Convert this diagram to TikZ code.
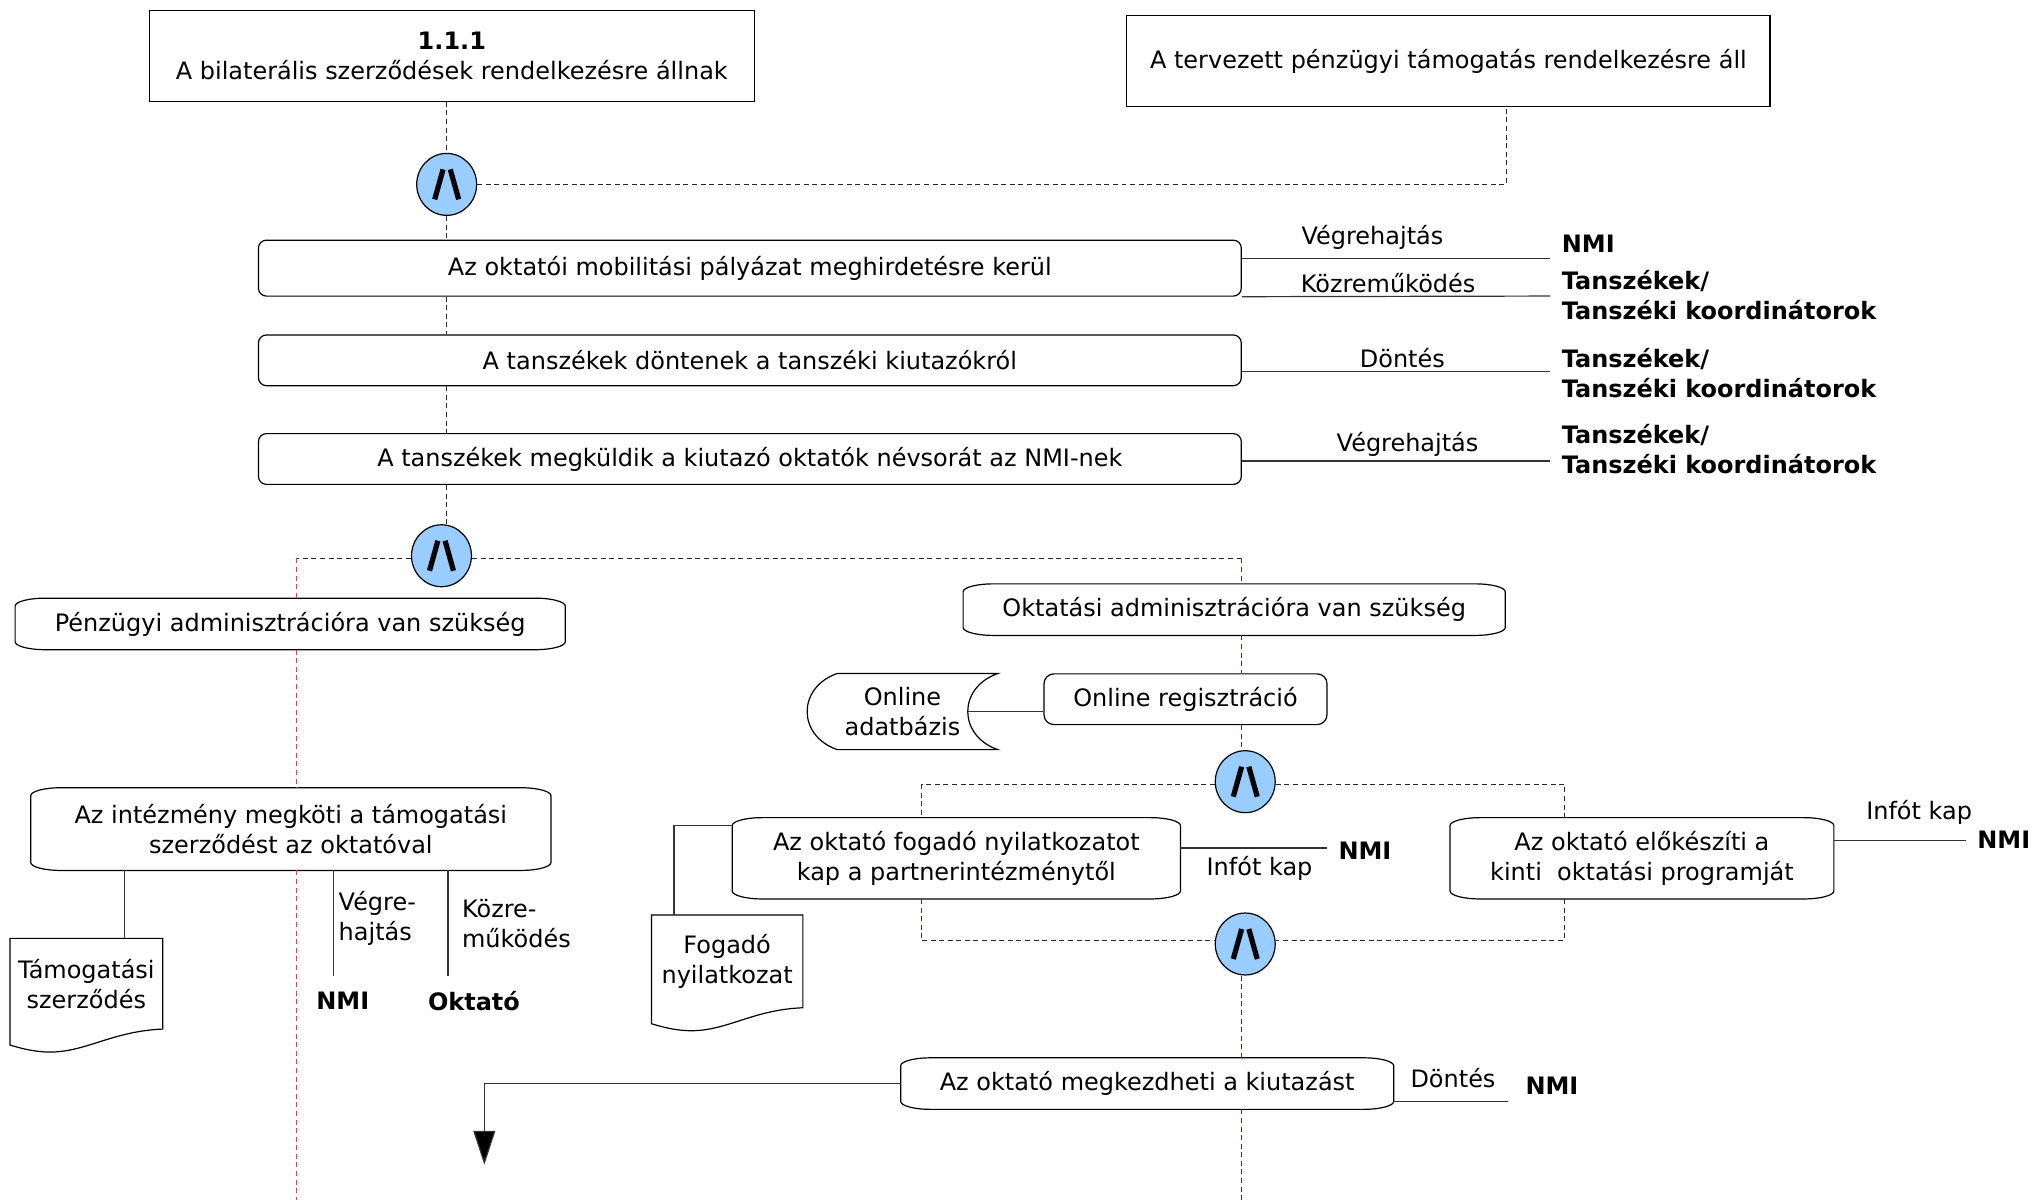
\documentclass[tikz,border=0pt]{standalone}
\usepackage{fontspec}
\setmainfont{DejaVu Sans}
\usetikzlibrary{calc,arrows.meta,shapes.geometric}
\definecolor{andblue}{HTML}{99CCFF}
\definecolor{redline}{HTML}{C05050}
\definecolor{blueline}{HTML}{2828A8}
\definecolor{connline}{HTML}{333333}
\tikzset{
  shapeln/.style={draw=black, line width=0.6pt},
  rectbox/.style={shapeln, inner sep=0pt, align=center},
  rndbox/.style={shapeln, rounded corners=4pt, inner sep=0pt, align=center},
  evnode/.style={inner sep=0pt, align=center},
  andnode/.style={ellipse, draw=black, line width=0.6pt, fill=andblue, minimum width=30pt, minimum height=31pt, inner sep=0pt},
  lbl/.style={inner sep=1pt, align=left},
  actor/.style={inner sep=1pt, align=left, font=\fontsize{12}{15}\selectfont\bfseries},
  solidln/.style={draw=connline, line width=0.6pt},
  dashln/.style={draw=black!85, line width=0.5pt, dash pattern=on 2.5pt off 1.8pt},
  redln/.style={dashln, draw=redline},
  blueln/.style={dashln, draw=blueline},
}
\newcommand\evbox[1]{%
  \draw[shapeln] ($(#1.north west)+(0pt,-4pt)$) arc[start angle=180,end angle=90,x radius=15pt,y radius=4pt]
    -- ($(#1.north east)+(-15pt,0pt)$) arc[start angle=90,end angle=0,x radius=15pt,y radius=4pt]
    -- ($(#1.south east)+(0pt,4pt)$) arc[start angle=0,end angle=-90,x radius=15pt,y radius=4pt]
    -- ($(#1.south west)+(15pt,0pt)$) arc[start angle=270,end angle=180,x radius=15pt,y radius=4pt] -- cycle;}
\newcommand\docshape[1]{%
  \draw[shapeln] (#1.north west) -- (#1.north east) -- (#1.south east)
    .. controls ($(#1.south east)+(-25pt,-1pt)$) and ($(#1.south west)+(38pt,-11.5pt)$) .. ($(#1.south west)+(20pt,-11.5pt)$)
    .. controls ($(#1.south west)+(12pt,-11.5pt)$) and ($(#1.south west)+(5pt,-9.5pt)$) .. ($(#1.south west)+(0pt,-8pt)$) -- cycle;}
\newcommand\andsym[1]{%
  \draw[line width=2.6pt] ($(#1)+(-6pt,-7.5pt)$) -- ($(#1)+(-1.8pt,7.5pt)$);
  \draw[line width=2.6pt] ($(#1)+(1.8pt,7.5pt)$) -- ($(#1)+(6pt,-7.5pt)$);}
\begin{document}
\begin{tikzpicture}[x=0.65pt,y=0.65pt,font=\fontsize{12}{15}\selectfont]
\useasboundingbox (0,0) rectangle (1568,-924);

% top boxes
\node[rectbox, minimum width=303pt, minimum height=45.5pt] (top1) at (348,-43)
  {\textbf{1.1.1}\\A bilaterális szerződések rendelkezésre állnak};
\node[rectbox, minimum width=322pt, minimum height=45.5pt] (top2) at (1115.5,-47)
  {A tervezett pénzügyi támogatás rendelkezésre áll};
\node[andnode] (and1) at (344,-142) {};
\andsym{and1}

% process boxes
\node[rndbox, minimum width=492pt, minimum height=28pt] (sA) at (577.5,-206.5)
  {Az oktatói mobilitási pályázat meghirdetésre kerül};
\node[rndbox, minimum width=492pt, minimum height=25.4pt] (sB) at (577.5,-277.5)
  {A tanszékek döntenek a tanszéki kiutazókról};
\node[rndbox, minimum width=492pt, minimum height=25.4pt] (sC) at (577.5,-353.5)
  {A tanszékek megküldik a kiutazó oktatók névsorát az NMI-nek};

\node[andnode] (and2) at (340,-428) {};
\andsym{and2}

\node[evnode, minimum width=275pt, minimum height=25.4pt] (pen) at (223.5,-480.5)
  {Pénzügyi adminisztrációra van szükség};
\evbox{pen}
\node[evnode, minimum width=271pt, minimum height=25.4pt] (okt) at (950.5,-469.5)
  {Oktatási adminisztrációra van szükség};
\evbox{okt}

\node[rndbox, rounded corners=5pt, minimum width=141.7pt, minimum height=25.4pt] (onreg) at (913,-538.5)
  {Online regisztráció};
\node[evnode, minimum width=95pt, minimum height=37.7pt] (ondb) at (695,-548)
  {Online\\adatbázis};
\draw[shapeln] ($(ondb.north west)+(15pt,0pt)$) -- (ondb.north east)
  .. controls ($(ondb.east)+(-20pt,12pt)$) and ($(ondb.east)+(-20pt,-12pt)$) .. (ondb.south east)
  -- ($(ondb.south west)+(15pt,0pt)$)
  .. controls ($(ondb.west)+(-5pt,-12pt)$) and ($(ondb.west)+(-5pt,12pt)$) .. cycle;

\node[andnode] (and3) at (959,-602) {};
\andsym{and3}

\node[evnode, minimum width=224pt, minimum height=40.3pt] (sD) at (736.5,-661)
  {Az oktató fogadó nyilatkozatot\\kap a partnerintézménytől};
\evbox{sD}
\node[evnode, minimum width=191.75pt, minimum height=40.3pt] (sE) at (1264.5,-661)
  {Az oktató előkészíti a\\kinti\ \ oktatási programját};
\evbox{sE}

\node[andnode] (and4) at (959,-727) {};
\andsym{and4}

\node[evnode, minimum width=260pt, minimum height=41pt] (inst) at (224,-638.5)
  {Az intézmény megköti a támogatási\\szerződést az oktatóval};
\evbox{inst}

\node[evnode, minimum width=76pt, minimum height=45pt] (tam) at (66.5,-757.6)
  {Támogatási\\szerződés};
\docshape{tam}
\node[evnode, minimum width=75.4pt, minimum height=46pt] (fog) at (560,-740.4)
  {Fogadó\\nyilatkozat};
\docshape{fog}

\node[evnode, minimum width=246.4pt, minimum height=25.4pt] (sF) at (883.5,-834.5)
  {Az oktató megkezdheti a kiutazást};
\evbox{sF}

% dashed control flow
\draw[dashln] (and1 |- top1.south) -- (and1.north);
\coordinate (c1) at (1160,-142);
\draw[dashln] (and1.east) -- (c1) -- (c1 |- top2.south);
\draw[dashln] (and1.south) -- (and1 |- sA.north);
\draw[dashln] (and1 |- sA.south) -- (and1 |- sB.north);
\draw[dashln] (and1 |- sB.south) -- (and1 |- sC.north);
\draw[dashln] (and1 |- sC.south) -- (and1 |- and2.north);
\coordinate (c2) at (228,-430);
\coordinate (c3) at (956,-430);
\draw[dashln] (and2.west |- c2) -- (c2);
\draw[redln] (c2) -- (c2 |- pen.north);
\draw[dashln] (and2.east |- c3) -- (c3);
\draw[blueln] (c3) -- (c3 |- okt.north);
\coordinate (redend) at (228,-924);
\draw[redln] (c2 |- pen.south) -- (c2 |- inst.north);
\draw[redln] (c2 |- inst.south) -- (redend);
\coordinate (blueend) at (956,-924);
\draw[blueln] (c3 |- okt.south) -- (c3 |- onreg.north);
\draw[blueln] (c3 |- onreg.south) -- (c3 |- and3.north);
\coordinate (c4) at (710,-604);
\coordinate (c5) at (1205,-604);
\coordinate (c6) at (710,-724);
\coordinate (c7) at (1205,-724);
\draw[dashln] (and3.west |- c4) -- (c4);
\draw[blueln] (c4) -- (c4 |- sD.north);
\draw[dashln] (and3.east |- c5) -- (c5) -- (c5 |- sE.north);
\draw[blueln] (c6 |- sD.south) -- (c6);
\draw[dashln] (c6) -- (and4.west |- c6);
\draw[dashln] (c7 |- sE.south) -- (c7) -- (and4.east |- c7);
\draw[blueln] (c3 |- and4.south) -- (c3 |- sF.north);
\draw[blueln] (c3 |- sF.south) -- (blueend);

% right-hand role lines
\coordinate (eA1) at (1194,-199);
\coordinate (eA2) at (1194,-228);
\coordinate (eB) at (1194,-286);
\coordinate (eC) at (1194,-355);
\draw[solidln] (sA.east |- eA1) -- (eA1);
\draw[solidln] (sA.south east) -- (eA2);
\draw[solidln] (sB.east |- eB) -- (eB);
\draw[solidln] (sC.east |- eC) -- (eC);
\node[lbl] (lA1) at (1057,-183) {Végrehajtás};
\node[lbl] (lA2) at (1069,-218) {Közreműködés};
\node[lbl] (lB) at (1080,-276) {Döntés};
\node[lbl] (lC) at (1084,-342) {Végrehajtás};
\node[actor, anchor=west] (aA1) at (1201,-188) {NMI};
\node[actor, anchor=west] (aA2) at (1201,-227.5) {Tanszékek/\\Tanszéki koordinátorok};
\node[actor, anchor=west] (aB) at (1201,-287.5) {Tanszékek/\\Tanszéki koordinátorok};
\node[actor, anchor=west] (aC) at (1201,-345.5) {Tanszékek/\\Tanszéki koordinátorok};

% online db
\draw[solidln] ($(ondb.east)+(-15pt,0pt)$) -- (onreg.west |- ondb.east);

% D and E roles
\coordinate (eD) at (1022,-653);
\draw[solidln] (sD.east |- eD) -- (eD);
\node[lbl] (lD) at (970,-669) {Infót kap};
\node[actor, anchor=west] (aD) at (1029,-655) {NMI};
\coordinate (eE) at (1514,-647);
\draw[solidln] (sE.east |- eE) -- (eE);
\node[lbl] (lE) at (1478,-626) {Infót kap};
\node[actor, anchor=west] (aE) at (1521,-647) {NMI};
\coordinate (c8) at (519,-636);
\draw[solidln] (sD.west |- c8) -- (c8) -- (c8 |- fog.north);

% institution roles
\coordinate (c9) at (96,-670);
\draw[solidln] (c9 |- inst.south) -- (c9 |- tam.north);
\coordinate (eI1) at (257,-752);
\coordinate (eI2) at (345,-752);
\draw[solidln] (eI1 |- inst.south) -- (eI1);
\draw[solidln] (eI2 |- inst.south) -- (eI2);
\node[lbl, anchor=west] (lI1) at (259,-707) {Végre-\\hajtás};
\node[lbl, anchor=west] (lI2) at (354,-711) {Közre-\\működés};
\node[actor] (aI1) at (264,-771) {NMI};
\node[actor] (aI2) at (365,-771) {Oktató};

% final
\coordinate (arrend) at (373,-897);
\draw[solidln, -{Triangle[length=17pt,width=11pt,fill=black]}] (sF.west) -| (arrend);
\coordinate (eF) at (1161,-848);
\draw[solidln] (sF.east |- eF) -- (eF);
\node[lbl] (lF) at (1119,-830) {Döntés};
\node[actor, anchor=west] (aF) at (1173,-836) {NMI};
\end{tikzpicture}
\end{document}
